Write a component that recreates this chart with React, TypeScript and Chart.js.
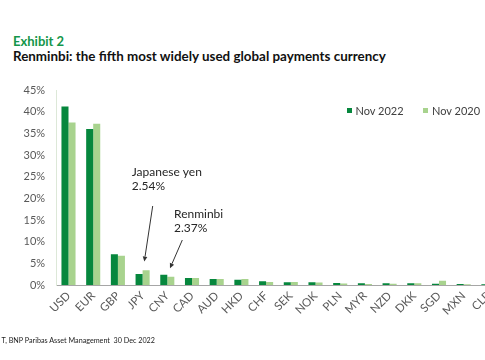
import React, { useEffect, useRef } from "react";
import { Chart, registerables } from "chart.js";

Chart.register(...registerables);

const categories = ["USD", "EUR", "GBP", "JPY", "CNY", "CAD", "AUD", "HKD", "CHF", "SEK", "NOK", "PLN", "MYR", "NZD", "DKK", "SGD", "MXN", "CLP"];
const nov2022 = [41.2, 36.0, 7.08, 2.54, 2.37, 1.62, 1.38, 1.22, 0.85, 0.62, 0.62, 0.46, 0.38, 0.38, 0.38, 0.3, 0.25, 0.15];
const nov2020 = [37.5, 37.2, 6.76, 3.4, 1.92, 1.62, 1.38, 1.38, 0.7, 0.7, 0.55, 0.35, 0.25, 0.3, 0.38, 1.0, 0.2, 0.1];
const seriesNames = ["Nov 2022", "Nov 2020"];
const yTickMax = 45;
const yTickStep = 5;

const annotations = [
  { cat: "JPY", value: 2.54, lines: ["Japanese yen", "2.54%"], tipDx: 1.7, tipDy: -12.5, startDx: 8.4, startDy: -55.5, textDx: -12.6, textDy: -85 },
  { cat: "CNY", value: 2.37, lines: ["Renminbi", "2.37%"], tipDx: 2.7, tipDy: -6.4, startDx: 12.3, startDy: -28.3, textDx: 4, textDy: -50.3 },
];

const DARK = "#06873d";
const LIGHT = "#a8d38e";
const FONT = "Lato, 'Noto Sans', sans-serif";

const annotationPlugin = {
  id: "arrowNotes",
  afterDraw(chart: any) {
    const ctx = chart.ctx;
    const xs = chart.scales.x;
    const ys = chart.scales.y;
    ctx.save();
    for (const a of annotations) {
      const idx = categories.indexOf(a.cat);
      const bx = xs.getPixelForValue(idx);
      const by = ys.getPixelForValue(a.value);
      const tx = bx + a.tipDx;
      const ty = by + a.tipDy;
      const sx = tx + a.startDx;
      const sy = ty + a.startDy;
      const ang = Math.atan2(ty - sy, tx - sx);
      const hl = 5;
      const hw = 2.3;
      const bxh = tx - hl * Math.cos(ang);
      const byh = ty - hl * Math.sin(ang);
      ctx.strokeStyle = "#333333";
      ctx.fillStyle = "#333333";
      ctx.lineWidth = 1;
      ctx.beginPath();
      ctx.moveTo(sx, sy);
      ctx.lineTo(bxh, byh);
      ctx.stroke();
      ctx.beginPath();
      ctx.moveTo(tx, ty);
      ctx.lineTo(bxh + hw * Math.sin(ang), byh - hw * Math.cos(ang));
      ctx.lineTo(bxh - hw * Math.sin(ang), byh + hw * Math.cos(ang));
      ctx.closePath();
      ctx.fill();
      ctx.fillStyle = "#262626";
      ctx.font = `12px ${FONT}`;
      ctx.textAlign = "left";
      ctx.textBaseline = "alphabetic";
      a.lines.forEach((ln, i) => {
        ctx.fillText(ln, tx + a.textDx, ty + a.textDy + i * 13.8);
      });
    }
    ctx.restore();
  },
};

export default function App() {
  const ref = useRef<HTMLCanvasElement | null>(null);
  useEffect(() => {
    if (!ref.current) return;
    const chart = new Chart(ref.current, {
      type: "bar",
      data: {
        labels: categories,
        datasets: [
          { label: seriesNames[0], data: nov2022, backgroundColor: DARK, borderWidth: 0 },
          { label: seriesNames[1], data: nov2020, backgroundColor: LIGHT, borderWidth: 0 },
        ],
      },
      options: {
        animation: false,
        responsive: false,
        devicePixelRatio: 1,
        layout: { padding: { top: 90, right: 9.25, left: 0, bottom: 0 } },
        plugins: { legend: { display: false }, tooltip: { enabled: false }, title: { display: false } },
        datasets: { bar: { categoryPercentage: 0.57, barPercentage: 1 } },
        scales: {
          x: {
            grid: { display: false, drawTicks: false },
            border: { display: true, color: "#a6a6a6", width: 1 },
            ticks: {
              autoSkip: false,
              maxRotation: 45,
              minRotation: 45,
              padding: 4,
              color: "#595959",
              font: { family: FONT, size: 11.5 },
            },
            afterFit(scale: any) {
              scale.height = 75;
            },
          },
          y: {
            min: 0,
            max: yTickMax,
            grid: { display: false, drawTicks: false },
            border: { display: true, color: "#dde8d8", width: 1 },
            ticks: {
              stepSize: yTickStep,
              padding: 11,
              color: "#595959",
              font: { family: FONT, size: 11 },
              callback: (v: any) => `${v}%`,
            },
            afterFit(scale: any) {
              scale.width = 56.15;
            },
          },
        },
      },
      plugins: [annotationPlugin],
    });
    return () => chart.destroy();
  }, []);

  const legendItem = (name: string, color: string, left: number) => (
    <div style={{ position: "absolute", left, top: 103, height: 14, display: "flex", alignItems: "center", font: `11px ${FONT}`, color: "#404040", whiteSpace: "nowrap" }}>
      <span style={{ display: "inline-block", width: 5, height: 5, background: color, marginRight: 4 }} />
      <span>{name}</span>
    </div>
  );

  return (
    <div style={{ position: "fixed", left: 0, top: 0, width: 485, height: 360, overflow: "hidden", background: "#ffffff" }}>
      <div style={{ position: "absolute", left: 13, top: 33, font: `bold 13px ${FONT}`, lineHeight: "16px", color: "#14964a", whiteSpace: "nowrap" }}>Exhibit 2</div>
      <div style={{ position: "absolute", left: 13, top: 47.5, font: `bold 13.4px ${FONT}`, lineHeight: "16px", color: "#111111", whiteSpace: "nowrap" }}>
        Renminbi: the fifth most widely used global payments currency
      </div>
      <canvas ref={ref} width={510} height={360} style={{ position: "absolute", left: 0, top: 0, width: 510, height: 360 }} />
      {legendItem(seriesNames[0], DARK, 346.5)}
      {legendItem(seriesNames[1], LIGHT, 423)}
      <div style={{ position: "absolute", left: 1.5, top: 336, font: `7.2px ${FONT}`, lineHeight: "10px", color: "#222222", whiteSpace: "pre" }}>
        {"T, BNP Paribas Asset Management  30 Dec 2022"}
      </div>
    </div>
  );
}
